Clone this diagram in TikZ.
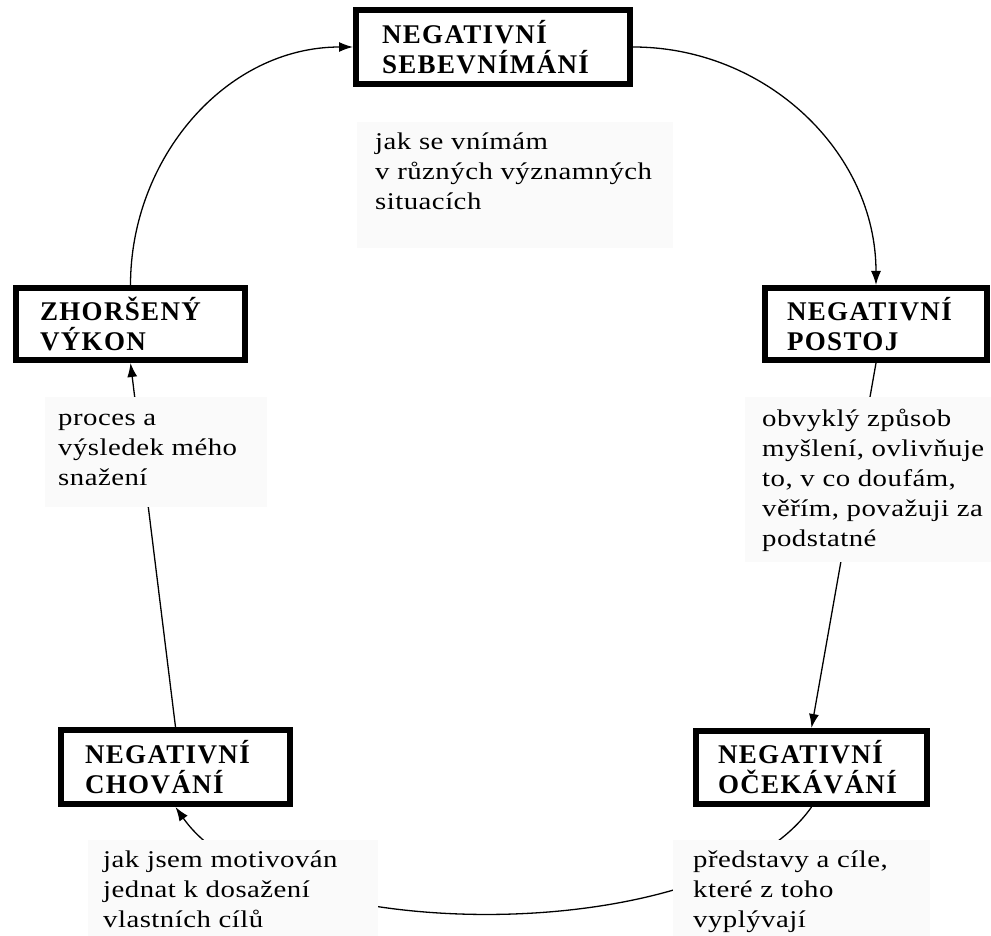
\documentclass[tikz,border=0pt]{standalone}
\usepackage{fontspec}
\setmainfont{Liberation Serif}
\newfontfamily\bodyfont[FakeStretch=1.2,LetterSpace=2]{Liberation Serif}
\newfontfamily\titlefont[LetterSpace=5]{Liberation Serif}
\usetikzlibrary{arrows.meta}
\definecolor{bgfill}{HTML}{FAFAFA}
\tikzset{
  titlebox/.style={draw, line width=6pt, align=left, anchor=north west, inner ysep=0pt,
    font=\titlefont\bfseries\fontsize{27}{30}\selectfont},
  bodytext/.style={align=left, anchor=north west, inner sep=0pt,
    font=\bodyfont\fontsize{24}{30}\selectfont},
  conn/.style={line width=1.3pt},
  arr/.style={conn, -{Latex[length=14pt,width=10pt]}},
}
\begin{document}
\begin{tikzpicture}[x=1pt,y=-1pt]
\useasboundingbox (0,0) rectangle (991,936);
\fill[white] (0,0) rectangle (991,936);
% boxes
\node[titlebox, inner xsep=26pt, text width=222pt, minimum width=274pt, minimum height=74pt] (seb) at (353,7) {NEGATIVNÍ\\SEBEVNÍMÁNÍ};
\node[titlebox, inner xsep=24pt, text width=181pt, minimum width=229pt, minimum height=72pt] (zh) at (13,285) {ZHORŠENÝ\\VÝKON};
\node[titlebox, inner xsep=22pt, text width=178pt, minimum width=222pt, minimum height=72pt] (post) at (762,285) {NEGATIVNÍ\\POSTOJ};
\node[titlebox, inner xsep=24pt, text width=181pt, minimum width=229pt, minimum height=74pt] (chov) at (58,727) {NEGATIVNÍ\\CHOVÁNÍ};
\node[titlebox, inner xsep=22pt, text width=187pt, minimum width=231pt, minimum height=73pt] (ocek) at (693,728) {NEGATIVNÍ\\OČEKÁVÁNÍ};
% connectors
\draw[arr] (zh.north) .. controls +(0,-127) and +(-127,0) .. (seb.west);
\draw[arr] (seb.east) .. controls +(133,0) and +(0,-133) .. (post.north);
\draw[arr] (post.south) -- (ocek.north);
\draw[arr] (ocek.south) .. controls +(-99,141.4) and +(99,141.4) .. (chov.south);
\draw[arr] (chov.north) -- (zh.south);
% text backgrounds
\fill[bgfill] (357,122) rectangle (673,248);
\fill[bgfill] (45,397) rectangle (267,507);
\fill[bgfill] (745,397) rectangle (991,562);
\fill[bgfill] (88,840) rectangle (378,936);
\fill[bgfill] (673,840) rectangle (930,936);
% texts
\node[bodytext] (ta) at (375,128) {\strut jak se vnímám\\v různých významných\\situacích};
\node[bodytext] (tb) at (58,404) {\strut proces a\\výsledek mého\\snažení};
\node[bodytext] (tc) at (762,405) {\strut obvyklý způsob\\myšlení, ovlivňuje\\to, v co doufám,\\věřím, považuji za\\podstatné};
\node[bodytext] (td) at (103,846) {\strut jak jsem motivován\\jednat k dosažení\\vlastních cílů};
\node[bodytext] (te) at (693,846) {\strut představy a cíle,\\které z toho\\vyplývají};
\end{tikzpicture}
\end{document}
